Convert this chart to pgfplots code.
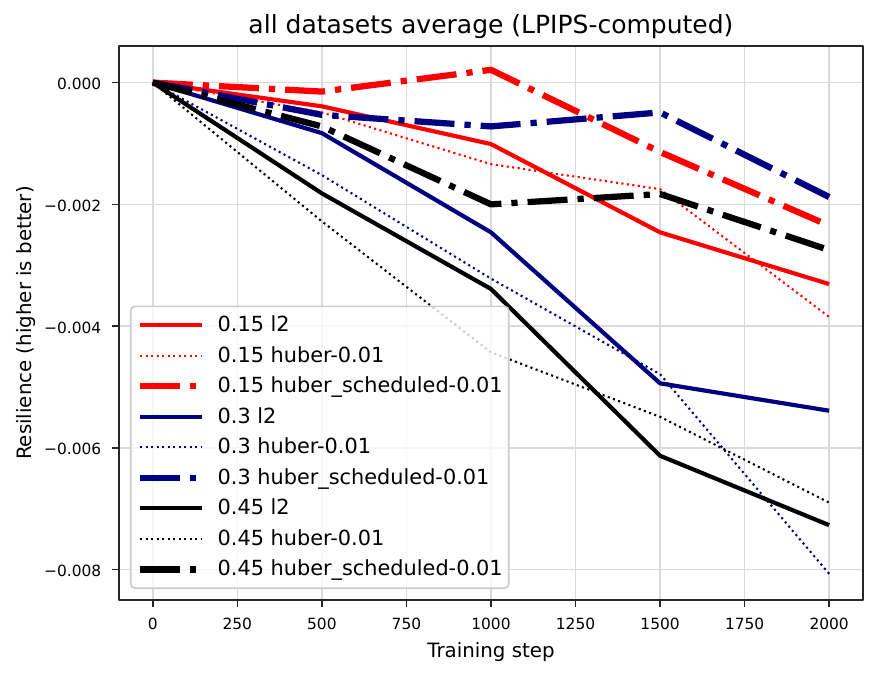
\documentclass[border=0pt]{standalone}
\usepackage{fontspec}
\setmainfont{DejaVu Sans}
\usepackage{pgfplots}
\pgfplotsset{compat=1.18}
\definecolor{navy}{rgb}{0,0,0.5}
\definecolor{spine}{gray}{0.15}
\definecolor{gridc}{gray}{0.86}
\definecolor{legedge}{gray}{0.8}

\begin{document}
\begin{tikzpicture}
\useasboundingbox (-57.1pt,-36.5pt) rectangle (364.3pt,288pt);
\begin{axis}[
  at={(0pt,0pt)}, anchor=south west,
  scale only axis, width=357.1pt, height=265.9pt,
  xmin=-100, xmax=2100, ymin=-0.0085, ymax=0.0006,
  xtick={0,250,500,750,1000,1250,1500,1750,2000},
  xticklabels={0,250,500,750,1000,1250,1500,1750,2000},
  ytick={-0.008,-0.006,-0.004,-0.002,0},
  yticklabels={−0.008,−0.006,−0.004,−0.002,0.000},
  scaled y ticks=false, scaled x ticks=false,
  tick pos=left, tick align=outside, major tick length=3.4pt,
  tick style={spine, line width=0.8pt},
  axis line style={spine, line width=0.8pt},
  grid=major, major grid style={gridc, line width=0.8pt},
  ticklabel style={font=\fontsize{7.4}{9}\selectfont},
  xticklabel style={anchor=base, inner sep=0pt, yshift=-10.5pt},
  yticklabel style={anchor=base east, inner sep=0pt, xshift=-4.9pt, yshift=-3.4pt},
  every axis title shift=0pt,
  title={all datasets average (LPIPS-computed)},
  title style={at={(axis description cs:0.5,1.0228)}, anchor=base, inner sep=0pt, font=\fontsize{12}{14}\selectfont},
  xlabel={Training step},
  xlabel style={at={(axis description cs:0.5,-0.1029)}, anchor=base, inner sep=0pt, font=\fontsize{9.5}{11}\selectfont},
  ylabel={Resilience (higher is better)},
  ylabel style={at={(axis description cs:-0.1173,0.5)}, anchor=base, inner sep=0pt, rotate=0, font=\fontsize{9.5}{11}\selectfont},
  legend style={at={(0.0148,0.0199)}, anchor=south west, draw=legedge, line width=0.8pt,
    rounded corners=2pt, fill=white, fill opacity=0.8, text opacity=1, draw opacity=1,
    inner xsep=2.9pt, inner ysep=4.8pt, font=\fontsize{10}{12}\selectfont,
    row sep=6.26pt, column sep=5.8pt,
    nodes={inner sep=0pt, text height=7.3pt, text depth=1.1pt}},
  legend cell align=left,
  legend image code/.code={\draw[#1] (0pt,0pt) -- (30pt,0pt);},
  line join=round,
]
\addplot[red, line width=2pt] coordinates {(0,0) (500,-0.00039) (1000,-0.00101) (1500,-0.00246) (2000,-0.00331)};
\addlegendentry{0.15 l2}
\addplot[red, line width=1pt, dash pattern=on 1pt off 1.65pt] coordinates {(0,0) (500,-0.00049) (1000,-0.00134) (1500,-0.00175) (2000,-0.00385)};
\addlegendentry{0.15 huber-0.01}
\addplot[red, line width=3pt, dash pattern=on 19.2pt off 4.8pt on 3pt off 4.8pt] coordinates {(0,0) (500,-0.000148) (1000,0.00021) (1500,-0.00114) (2000,-0.00235)};
\addlegendentry{0.15 huber\_scheduled-0.01}
\addplot[navy, line width=2pt] coordinates {(0,0) (500,-0.00083) (1000,-0.00246) (1500,-0.00494) (2000,-0.00539)};
\addlegendentry{0.3 l2}
\addplot[navy, line width=1pt, dash pattern=on 1pt off 1.65pt] coordinates {(0,0) (500,-0.00152) (1000,-0.00322) (1500,-0.00479) (2000,-0.00807)};
\addlegendentry{0.3 huber-0.01}
\addplot[navy, line width=3pt, dash pattern=on 19.2pt off 4.8pt on 3pt off 4.8pt] coordinates {(0,0) (500,-0.00053) (1000,-0.00072) (1500,-0.00049) (2000,-0.00188)};
\addlegendentry{0.3 huber\_scheduled-0.01}
\addplot[black, line width=2pt] coordinates {(0,0) (500,-0.00182) (1000,-0.00339) (1500,-0.00613) (2000,-0.00727)};
\addlegendentry{0.45 l2}
\addplot[black, line width=1pt, dash pattern=on 1pt off 1.65pt] coordinates {(0,0) (500,-0.00228) (1000,-0.00443) (1500,-0.00549) (2000,-0.0069)};
\addlegendentry{0.45 huber-0.01}
\addplot[black, line width=3pt, dash pattern=on 19.2pt off 4.8pt on 3pt off 4.8pt] coordinates {(0,0) (500,-0.00072) (1000,-0.002) (1500,-0.00183) (2000,-0.00275)};
\addlegendentry{0.45 huber\_scheduled-0.01}
\end{axis}
\end{tikzpicture}
\end{document}
